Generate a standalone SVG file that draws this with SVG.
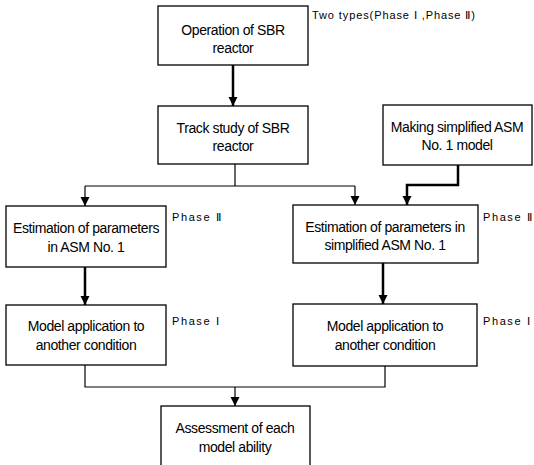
<svg xmlns="http://www.w3.org/2000/svg" width="534" height="465" viewBox="0 0 534 465">
<style>
.box{fill:#fff;stroke:#000;stroke-width:1.3}
.t{font-family:"Liberation Sans",Arial,sans-serif;font-size:14px;fill:#000;text-anchor:middle;letter-spacing:-0.4px}
.p{font-family:"Liberation Sans",Arial,sans-serif;font-size:11px;fill:#000;letter-spacing:1.6px}
.thin{fill:none;stroke:#000;stroke-width:1.2}
.thick{fill:none;stroke:#000;stroke-width:2.5}
</style>
<defs>
<marker id="ah" viewBox="0 0 10 10" refX="10" refY="5" markerWidth="9" markerHeight="10" markerUnits="userSpaceOnUse" orient="auto">
<path d="M0,0 L10,5 L0,10 Z" fill="#000"/>
</marker>
</defs>
<rect width="534" height="465" fill="#fff"/>
<g id="connectors">
<path class="thick" d="M233,65 V106" marker-end="url(#ah)"/>
<path class="thin" d="M235,164 V186 M85,186 H355"/>
<path class="thin" d="M85,186 V206" marker-end="url(#ah)"/>
<path class="thin" d="M355,186 V205" marker-end="url(#ah)"/>
<path class="thick" d="M458,165 V185 H407 V205" marker-end="url(#ah)"/>
<path class="thick" d="M85,267 V305" marker-end="url(#ah)"/>
<path class="thick" d="M383,263 V304" marker-end="url(#ah)"/>
<path class="thin" d="M85,365 V387 H385 V366"/>
<path class="thin" d="M235,387 V406" stroke-width="1.8" marker-end="url(#ah)"/>
</g>
<g id="n1"><rect class="box" x="158" y="6" width="150" height="59"/>
<text class="t" x="233" y="35">Operation of SBR</text><text class="t" x="233" y="53">reactor</text></g>
<g id="n2"><rect class="box" x="158" y="106" width="150" height="58"/>
<text class="t" x="233" y="133">Track study of SBR</text><text class="t" x="233" y="151">reactor</text></g>
<g id="n3"><rect class="box" x="383" y="105" width="149" height="60"/>
<text class="t" x="457" y="132">Making simplified ASM</text><text class="t" x="457" y="150">No. 1 model</text></g>
<g id="n4"><rect class="box" x="6" y="206" width="160" height="61"/>
<text class="t" x="86" y="233">Estimation of parameters</text><text class="t" x="86" y="252">in ASM No. 1</text></g>
<g id="n5"><rect class="box" x="293" y="205" width="185" height="58"/>
<text class="t" x="385" y="232">Estimation of parameters in</text><text class="t" x="385" y="250">simplified ASM No. 1</text></g>
<g id="n6"><rect class="box" x="6" y="305" width="160" height="60"/>
<text class="t" x="86" y="331">Model application to</text><text class="t" x="86" y="350">another condition</text></g>
<g id="n7"><rect class="box" x="293" y="304" width="184" height="62"/>
<text class="t" x="385" y="331">Model application to</text><text class="t" x="385" y="350">another condition</text></g>
<g id="n8"><rect class="box" x="161" y="406" width="149" height="62"/>
<text class="t" x="235" y="433">Assessment of each</text><text class="t" x="235" y="452">model ability</text></g>
<g id="labels">
<text class="p" x="312" y="19" style="letter-spacing:0.9px">Two types(Phase Ⅰ ,Phase Ⅱ)</text>
<text class="p" x="172" y="221">Phase Ⅱ</text>
<text class="p" x="483" y="221">Phase Ⅱ</text>
<text class="p" x="172" y="325">Phase Ⅰ</text>
<text class="p" x="483" y="325">Phase Ⅰ</text>
</g>
</svg>
